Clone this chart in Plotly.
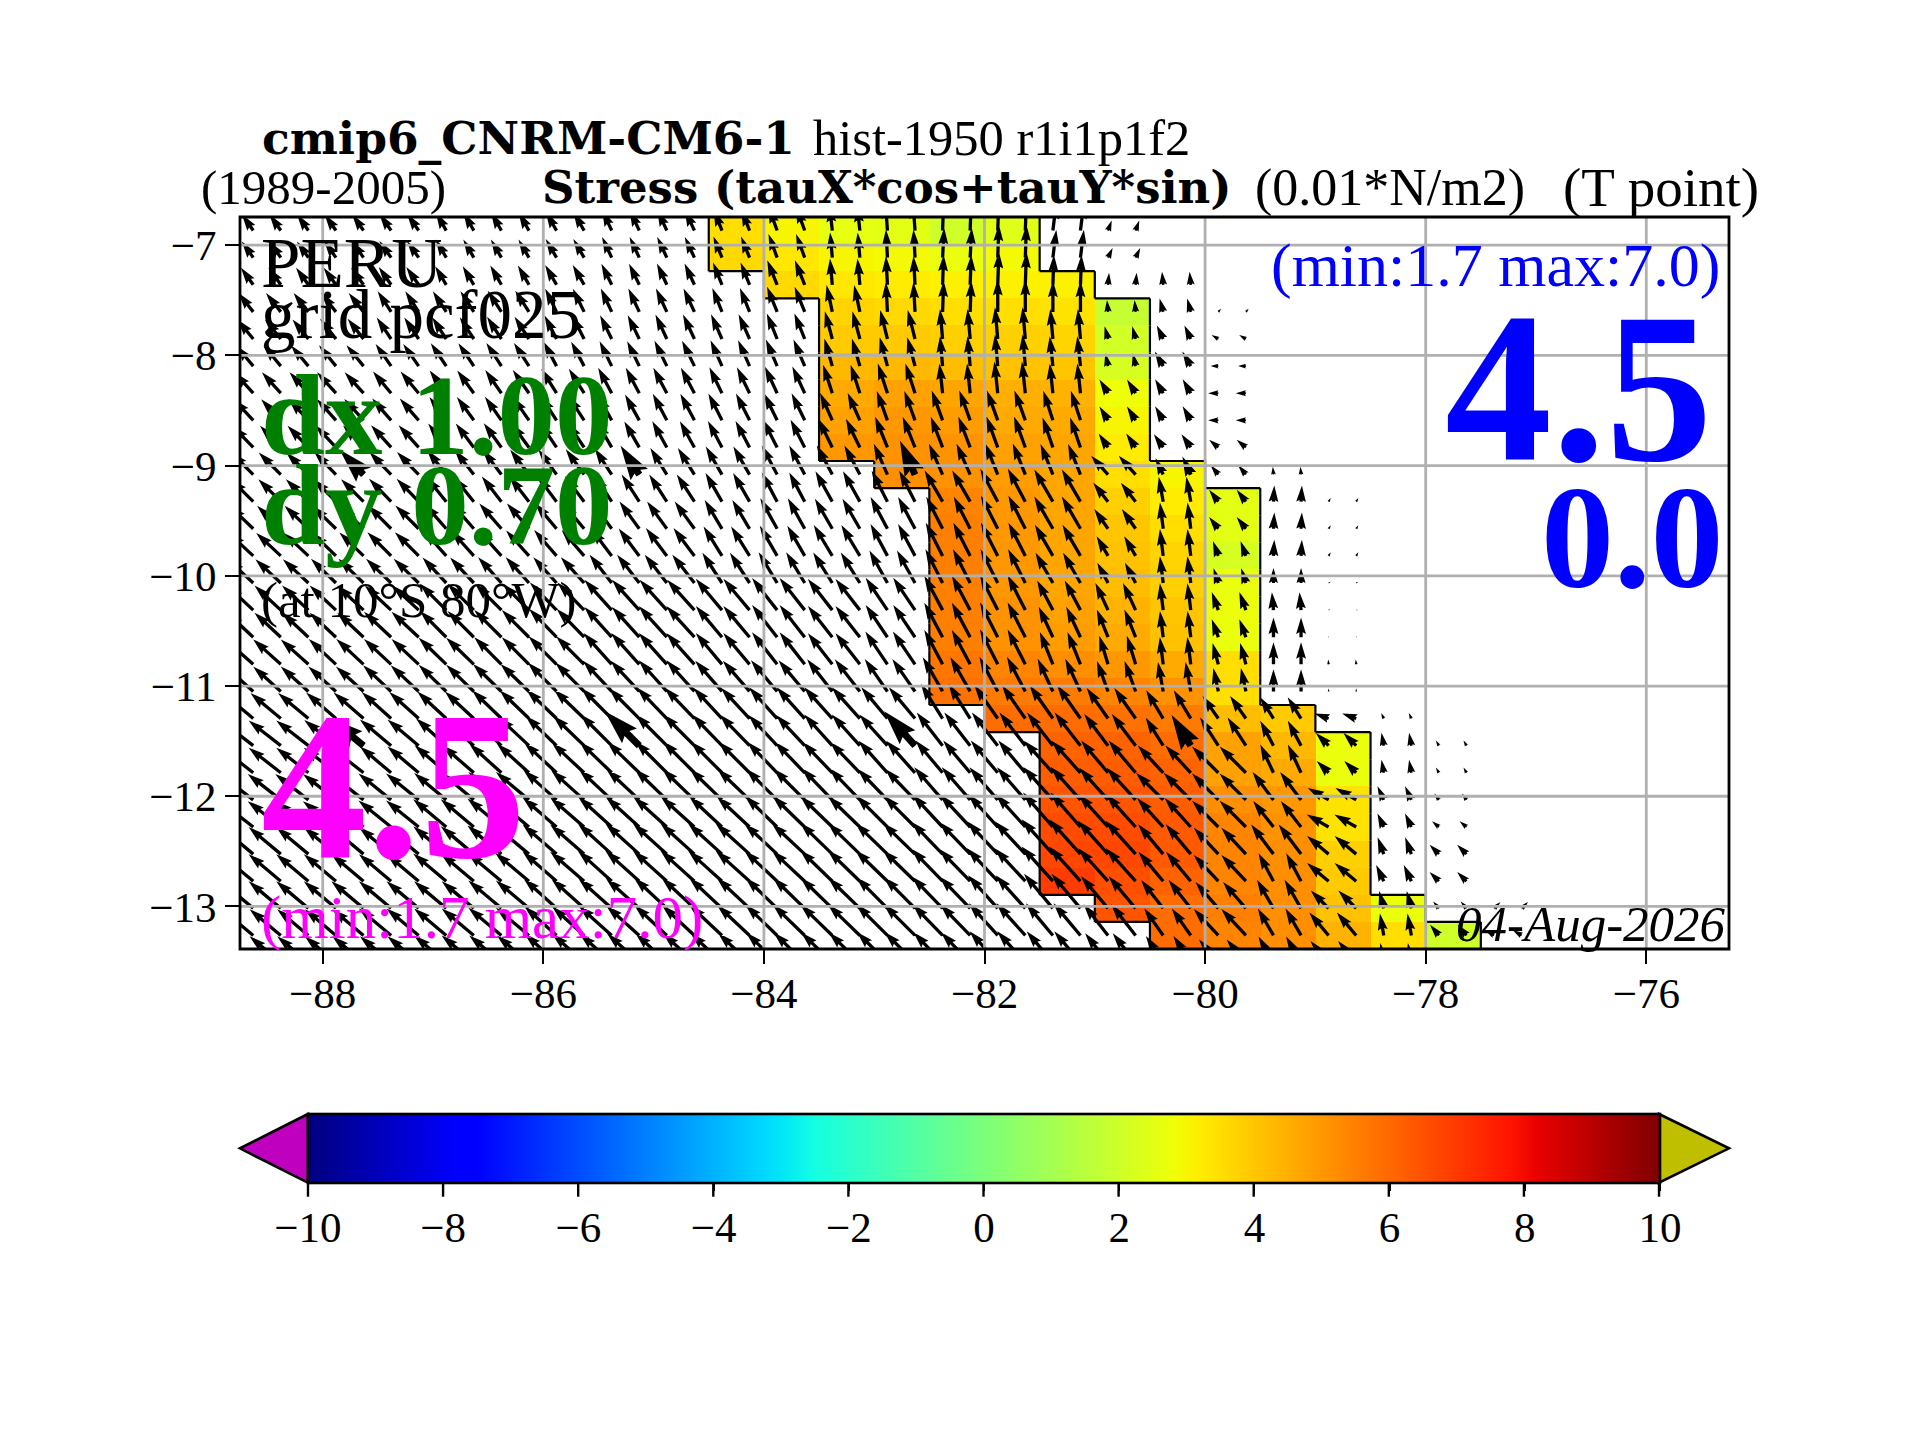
import math
import plotly.graph_objects as go

# ---- data ----
X_TICKS = [-88, -86, -84, -82, -80, -78, -76]
Y_TICKS = [-13, -12, -11, -10, -9, -8, -7]
CBAR_TICKS = [-10, -8, -6, -4, -2, 0, 2, 4, 6, 8, 10]
CELL_LON_LEFT = [-89 + 0.5 * i for i in range(24)]
BAND_TOP = -6.744
BAND_STEP = 0.246

# value per coloured column: (column index, first band, values down the column)
C09 = (9, 0, [3.5, 3.6])
C10 = (10, 0, [3.0, 3.3, 3.6])
C11 = (11, 0, [2.6, 3.0, 3.3, 3.7, 3.9, 4.3, 4.6, 4.8, 5.0])
C12 = (12, 0, [2.5, 2.9, 3.2, 3.6, 3.9, 4.3, 4.8, 5.0, 5.1, 5.2])
C13 = (13, 0, [2.0, 2.7, 3.1, 3.5, 3.8, 4.2, 4.7, 4.9, 5.1, 5.1, 5.4, 5.5, 5.5, 5.5, 5.5, 5.5, 5.7, 5.8])
C14 = (14, 0, [2.4, 2.9, 3.1, 3.5, 3.8, 4.1, 4.5, 4.6, 4.8, 4.9, 5.0, 5.0, 5.0, 5.0, 5.1, 5.1, 5.4, 5.6, 5.9])
C15 = (15, 2, [3.1, 3.4, 3.7, 4.0, 4.4, 4.6, 4.7, 4.7, 4.7, 4.7, 4.7, 4.7, 4.8, 4.9, 5.2, 5.6, 5.9, 6.1, 6.2, 6.4, 6.6, 6.7, 6.9])
C16 = (16, 3, [1.8, 2.1, 2.2, 2.8, 3.0, 3.2, 3.5, 3.8, 4.0, 4.1, 4.2, 4.4, 4.6, 5.0, 5.4, 5.8, 6.1, 6.2, 6.4, 6.6, 6.7, 6.5, 6.4])
C17 = (17, 9, [3.0, 3.2, 3.5, 3.7, 3.8, 4.0, 4.1, 4.6, 5.1, 5.6, 5.9, 6.1, 6.2, 6.3, 6.3, 6.1, 5.9, 5.9])
C18 = (18, 10, [2.5, 2.5, 2.2, 2.7, 2.7, 2.7, 3.5, 3.5, 4.2, 4.8, 4.8, 5.2, 5.4, 5.4, 5.4, 5.5, 5.4])
C19 = (19, 18, [3.9, 4.3, 4.6, 5.0, 5.1, 5.2, 5.2, 5.2, 5.2])
C20 = (20, 19, [2.7, 2.7, 3.4, 3.4, 3.8, 3.9, 4.1, 4.4])
C21 = (21, 25, [2.7, 3.5])
C22 = (22, 26, [2.0])
COLOURED = [C09, C10, C11, C12, C13, C14, C15, C16, C17, C18, C19, C20, C21, C22]

# arrow bearing (degrees from north, west negative) per band and column
BEARING = [
 [-35,-35,-35,-35,-30,-30,-30,-25,-25,-22,-20,-6,-4,2,2,7,20,0,0,0,0,0,0,0],
 [-35,-35,-35,-35,-30,-30,-30,-25,-25,-22,-20,-5,-3,3,2,7,25,0,0,0,0,0,0,0],
 [-36,-36,-36,-35,-31,-30,-30,-26,-25,-22,-22,-5,-3,2,2,2,5,-5,0,0,0,0,0,0],
 [-38,-38,-38,-33,-33,-33,-26,-25,-25,-22,-22,-12,-3,2,0,0,-5,-15,40,0,0,0,0,0],
 [-39,-39,-38,-34,-33,-33,-27,-26,-25,-24,-22,-15,-14,-5,-5,-5,-15,-25,-60,0,0,0,0,0],
 [-40,-40,-39,-35,-34,-33,-28,-26,-26,-24,-23,-16,-15,-5,-5,-6,-12,-30,-90,0,0,0,0,0],
 [-42,-42,-42,-40,-36,-35,-32,-28,-28,-26,-25,-18,-18,-6,-6,-6,-32,-30,-90,0,0,0,0,0],
 [-43,-43,-42,-41,-36,-35,-33,-29,-28,-27,-26,-24,-20,-20,-20,-18,-32,-30,-90,0,0,0,0,0],
 [-44,-44,-43,-42,-37,-36,-34,-30,-29,-28,-27,-26,-22,-21,-20,-19,-34,-35,-50,0,0,0,0,0],
 [-45,-45,-44,-44,-38,-37,-36,-33,-32,-30,-28,-28,-24,-24,-22,-22,-42,-25,-40,-5,0,0,0,0],
 [-45,-45,-45,-44,-39,-38,-37,-33,-33,-30,-28,-29,-27,-30,-28,-30,-38,-10,-38,3,30,0,0,0],
 [-46,-46,-46,-45,-41,-41,-40,-36,-36,-31,-29,-30,-28,-27,-27,-30,-35,-7,-38,3,30,0,0,0],
 [-47,-47,-46,-45,-42,-42,-41,-37,-37,-32,-30,-31,-28,-27,-27,-30,-30,-7,-20,3,30,0,0,0],
 [-47,-47,-46,-46,-43,-42,-42,-38,-38,-33,-31,-32,-29,-27,-27,-30,-28,-7,-18,0,60,0,0,0],
 [-47,-47,-47,-47,-45,-45,-44,-42,-42,-40,-38,-38,-34,-28,-27,-28,-25,-7,-20,-5,60,0,0,0],
 [-47,-47,-47,-47,-45,-45,-44,-42,-42,-40,-38,-38,-34,-28,-27,-25,-22,-7,-20,0,0,0,0,0],
 [-48,-48,-47,-47,-46,-45,-45,-42,-42,-40,-38,-38,-34,-28,-27,-22,-17,-7,-15,0,-5,0,0,0],
 [-48,-48,-48,-47,-46,-46,-45,-43,-42,-41,-40,-38,-35,-30,-28,-25,-20,-10,-12,0,0,0,0,0],
 [-50,-50,-49,-48,-47,-46,-46,-45,-44,-43,-42,-42,-40,-32,-35,-35,-35,-31,-35,-32,-70,-25,0,0],
 [-52,-52,-51,-50,-48,-47,-46,-45,-45,-44,-43,-42,-42,-38,-38,-38,-37,-32,-33,-28,-45,-10,-30,0],
 [-52,-52,-52,-50,-49,-48,-47,-46,-45,-45,-44,-44,-42,-40,-40,-42,-40,-43,-45,-25,-45,-10,-30,0],
 [-52,-52,-52,-51,-50,-50,-48,-47,-46,-46,-45,-44,-44,-41,-41,-42,-42,-45,-45,-37,-60,-25,-35,0],
 [-52,-52,-52,-51,-50,-50,-49,-48,-48,-47,-46,-46,-45,-43,-42,-41,-42,-42,-45,-38,-60,-25,-50,0],
 [-50,-50,-50,-50,-50,-50,-49,-48,-48,-48,-47,-46,-46,-44,-43,-42,-42,-40,-43,-37,-50,-20,-45,0],
 [-50,-50,-50,-50,-50,-50,-49,-48,-48,-48,-47,-46,-46,-44,-43,-42,-42,-40,-43,-28,-50,-25,-45,0],
 [-50,-50,-50,-50,-50,-50,-48,-48,-47,-47,-46,-46,-45,-44,-42,-40,-40,-38,-41,-30,-45,-15,-40,45],
 [-50,-50,-50,-50,-50,-50,-48,-48,-47,-47,-46,-46,-45,-44,-42,-40,-38,-35,-43,-30,-40,-10,-40,-60],
 [-50,-50,-50,-50,-50,-50,-48,-48,-47,-47,-46,-46,-45,-44,-42,-40,-38,-33,-40,-30,-40,-10,-40,-20],
]
# arrow magnitude (0.01 N/m2) per band and column
SPEED = [
 [3.3,3.3,3.3,3.4,3.5,3.5,3.6,3.8,3.8,3.7,4.2,4.2,4.7,5.0,5.5,4.7,1.8,0,0,0,0,0,0,0],
 [3.3,3.3,3.4,3.4,3.5,3.5,3.6,3.8,3.8,3.8,4.2,4.2,4.7,5.0,5.5,4.7,1.8,0,0,0,0,0,0,0],
 [3.5,3.5,3.5,3.6,3.6,3.7,3.8,3.9,3.9,4.0,4.4,4.4,4.8,5.0,5.5,5.0,2.0,2.2,0,0,0,0,0,0],
 [4.0,4.0,4.0,4.1,4.1,4.2,4.3,4.3,4.3,4.3,4.5,4.6,5.0,5.2,5.5,5.2,2.0,2.3,0.7,0,0,0,0,0],
 [4.2,4.2,4.3,4.3,4.3,4.4,4.4,4.4,4.5,4.5,4.6,4.8,5.0,5.0,5.3,5.0,2.2,2.5,1.3,0,0,0,0,0],
 [4.5,4.5,4.5,4.5,4.6,4.6,4.6,4.6,4.7,4.7,4.8,4.8,5.0,5.0,5.3,5.0,2.2,2.8,1.3,0,0,0,0,0],
 [4.7,4.7,4.7,4.7,4.7,4.7,4.8,4.8,4.8,4.8,4.9,5.0,5.2,5.0,5.3,5.0,2.7,2.7,1.7,0,0,0,0,0],
 [4.8,4.8,4.8,4.8,4.8,4.8,4.9,4.9,5.0,5.0,5.0,5.0,5.2,5.3,5.3,5.2,2.7,2.7,1.7,0,0,0,0,0],
 [5.0,5.0,5.0,5.0,5.0,5.0,5.0,5.0,5.0,5.0,5.2,5.3,5.5,5.5,5.5,5.3,2.8,2.7,2.0,0,0,0,0,0],
 [5.2,5.2,5.2,5.2,5.2,5.2,5.2,5.2,5.2,5.4,5.5,5.5,5.6,5.6,5.6,5.5,4.2,3.0,2.0,1.3,0,0,0,0],
 [5.3,5.3,5.3,5.3,5.3,5.3,5.3,5.4,5.4,5.5,5.5,5.8,5.8,6.0,6.2,6.2,4.0,4.2,2.5,2.7,0.7,0,0,0],
 [5.5,5.5,5.5,5.5,5.5,5.6,5.6,5.6,5.6,5.6,5.8,5.8,6.0,6.0,6.2,6.2,4.0,4.4,2.5,2.7,0.7,0,0,0],
 [5.6,5.6,5.6,5.6,5.7,5.7,5.7,5.7,5.8,5.8,5.8,6.0,6.0,6.2,6.2,6.0,3.8,4.5,2.6,2.7,0.7,0,0,0],
 [5.8,5.8,5.8,5.8,5.8,5.8,5.8,6.0,6.0,6.0,6.0,6.0,6.2,6.3,6.3,5.8,3.8,4.5,2.6,2.5,0.4,0,0,0],
 [6.0,6.0,6.0,6.0,6.2,6.2,6.4,6.8,6.8,6.8,6.8,6.6,6.5,6.5,6.5,5.6,5.0,4.5,3.2,3.0,0.3,0,0,0],
 [6.0,6.0,6.0,6.2,6.2,6.4,6.6,6.8,7.0,6.8,6.8,6.6,6.5,6.5,6.5,5.6,5.0,4.4,3.2,3.3,0.2,0,0,0],
 [6.2,6.2,6.2,6.2,6.4,6.4,6.6,7.0,7.0,6.8,6.8,6.6,6.6,6.5,6.5,5.8,5.0,4.6,3.7,3.7,0.8,0,0,0],
 [6.2,6.2,6.2,6.4,6.4,6.6,6.8,7.0,7.0,6.8,6.8,6.8,6.6,6.6,6.5,6.0,5.4,5.0,4.0,3.7,0.5,0,0,0],
 [6.6,6.6,6.6,6.6,6.6,6.8,7.0,7.2,7.2,7.0,7.0,7.0,6.8,6.8,6.8,6.8,6.2,5.5,4.6,4.2,2.5,1.0,0,0],
 [6.8,6.8,6.8,6.8,6.8,7.0,7.2,7.4,7.4,7.2,7.0,7.0,7.0,7.0,7.0,7.0,6.6,5.5,5.6,4.7,3.0,2.2,1.0,0],
 [6.8,6.8,6.8,6.8,7.0,7.2,7.4,7.5,7.5,7.4,7.2,7.2,7.2,7.0,7.0,7.2,7.0,6.2,6.2,5.2,2.8,2.2,1.0,0],
 [7.0,7.0,7.0,7.0,7.0,7.2,7.4,7.5,7.5,7.5,7.4,7.4,7.2,7.2,7.2,7.4,7.2,6.4,6.2,5.8,4.0,2.5,1.3,0],
 [7.0,7.0,7.0,7.0,7.2,7.4,7.5,7.5,7.5,7.5,7.5,7.4,7.4,7.4,7.4,7.6,7.4,6.5,6.2,5.5,4.2,2.5,1.5,0],
 [7.0,7.0,7.0,7.0,7.2,7.4,7.5,7.6,7.6,7.6,7.5,7.5,7.5,7.5,7.5,7.8,7.5,6.5,6.0,6.2,4.7,3.0,2.2,0],
 [7.0,7.0,7.0,7.0,7.2,7.4,7.5,7.6,7.6,7.6,7.5,7.5,7.5,7.5,7.5,7.8,7.4,6.4,6.0,5.3,4.7,3.0,2.2,0],
 [7.0,7.0,7.0,7.0,7.0,7.2,7.4,7.5,7.5,7.5,7.4,7.4,7.4,7.4,7.4,7.5,7.0,6.0,5.8,5.5,4.2,3.0,1.5,1.5],
 [6.8,6.8,6.8,7.0,7.0,7.2,7.2,7.4,7.4,7.4,7.4,7.4,7.4,7.2,7.2,7.0,6.6,5.5,6.0,5.2,5.0,3.7,2.3,1.7],
 [6.8,6.8,6.8,6.8,7.0,7.0,7.2,7.2,7.2,7.2,7.2,7.2,7.2,7.0,7.0,6.8,6.2,5.3,5.0,5.0,4.7,3.3,2.0,1.7],
]
THICK_BANDS = [9, 19]
THICK_COLS = [2, 7, 12, 17]

# ---- figure geometry ----
W, H = 1920, 1440
LEFT, RIGHT, TOP, BOTTOM = 240.0, 1729.5, 217.0, 949.0
LON0, LON1 = -88.75, -75.25
LAT1, LAT0 = BAND_TOP, BAND_TOP - 27 * BAND_STEP
PX_LON = (RIGHT - LEFT) / (LON1 - LON0)
PX_LAT = (BOTTOM - TOP) / (LAT1 - LAT0)
PX_PER_SPEED = 6.0

nb, nc = 27, len(CELL_LON_LEFT)
z = [[None] * nc for _ in range(nb)]
for c, start, vals in COLOURED:
    for i, v in enumerate(vals):
        z[start + i][c] = v
lon_edges = CELL_LON_LEFT + [CELL_LON_LEFT[-1] + 0.5]
lat_edges = [BAND_TOP - BAND_STEP * k for k in range(nb + 1)]

# Outline of the coloured area
bx, by = [], []
def on(r, c):
    return 0 <= r < nb and 0 <= c < nc and z[r][c] is not None
for r in range(nb):
    for c in range(nc):
        if on(r, c):
            if not on(r - 1, c):
                bx += [lon_edges[c], lon_edges[c + 1], None]; by += [lat_edges[r], lat_edges[r], None]
            if not on(r + 1, c):
                bx += [lon_edges[c], lon_edges[c + 1], None]; by += [lat_edges[r + 1], lat_edges[r + 1], None]
            if not on(r, c - 1):
                bx += [lon_edges[c], lon_edges[c], None]; by += [lat_edges[r], lat_edges[r + 1], None]
            if not on(r, c + 1):
                bx += [lon_edges[c + 1], lon_edges[c + 1], None]; by += [lat_edges[r], lat_edges[r + 1], None]

def arrow(lon, lat, speed, bearing, w, xs, ys):
    length = speed * PX_PER_SPEED
    if length <= 0:
        return
    k = min(1.0, length / (5 * w))
    sw = w * k
    hl, ha, hw = 5 * sw, 4.5 * sw, 1.5 * sw
    pts = [(0, -sw / 2), (length - ha, -sw / 2), (length - hl, -hw), (length, 0),
           (length - hl, hw), (length - ha, sw / 2), (0, sw / 2), (0, -sw / 2)]
    b = math.radians(bearing)
    ux, uy = math.sin(b), math.cos(b)
    for a, p in pts:
        dx = a * ux + p * uy
        dy = a * uy - p * ux
        xs.append(lon + dx / PX_LON)
        ys.append(lat + dy / PX_LAT)
    xs.append(None); ys.append(None)

ax, ay, tx, ty = [], [], [], []
for r, (brow, srow) in enumerate(zip(BEARING, SPEED)):
    lat = BAND_TOP - BAND_STEP * (r + 0.5)
    for c in range(nc):
        for off in (0.12, 0.37):
            arrow(CELL_LON_LEFT[c] + off, lat, srow[c], brow[c], 3.3, ax, ay)
for r in THICK_BANDS:
    lat = BAND_TOP - BAND_STEP * (r + 0.5)
    for c in THICK_COLS:
        arrow(CELL_LON_LEFT[c] + 0.37, lat, SPEED[r][c] * 1.1, BEARING[r][c], 7.0, tx, ty)

JET = [[0, "rgb(0,0,127)"], [.11, "rgb(0,0,255)"], [.125, "rgb(0,0,255)"], [.34, "rgb(0,219,255)"],
       [.35, "rgb(0,230,247)"], [.375, "rgb(21,255,226)"], [.64, "rgb(239,255,8)"], [.65, "rgb(247,245,0)"],
       [.66, "rgb(255,236,0)"], [.89, "rgb(255,19,0)"], [.91, "rgb(232,0,0)"], [1, "rgb(127,0,0)"]]

FONT = "Liberation Serif"
BOLD = "DejaVu Serif"
plot_w, plot_h = RIGHT - LEFT, BOTTOM - TOP
def fx(px): return (px - LEFT) / plot_w
def fy(py): return (BOTTOM - py) / plot_h

CB_L, CB_R, CB_T, CB_B = 308.0, 1659.5, 1114.0, 1182.7

fig = go.Figure()
fig.add_trace(go.Heatmap(
    x=lon_edges, y=lat_edges, z=z, zmin=-10, zmax=10, colorscale=JET, hoverinfo="skip",
    colorbar=dict(orientation="h", lenmode="pixels", len=CB_R - CB_L, thicknessmode="pixels",
                  thickness=CB_B - CB_T, x=fx(CB_L), xanchor="left", y=fy(CB_T), yanchor="top",
                  xpad=0, ypad=0, tickmode="array", tickvals=CBAR_TICKS, ticks="outside", ticklen=7,
                  tickwidth=2.4, tickcolor="black", outlinewidth=2.6, outlinecolor="black",
                  tickfont=dict(family=FONT, size=43, color="black"))))
fig.add_trace(go.Scatter(x=bx, y=by, mode="lines", line=dict(color="black", width=2.2), hoverinfo="skip", showlegend=False))
fig.add_trace(go.Scatter(x=ax, y=ay, mode="lines", line=dict(color="black", width=0), fill="toself",
                         fillcolor="black", hoverinfo="skip", showlegend=False))
fig.add_trace(go.Scatter(x=tx, y=ty, mode="lines", line=dict(color="black", width=0), fill="toself",
                         fillcolor="black", hoverinfo="skip", showlegend=False))

shapes = []
for v in X_TICKS:
    shapes.append(dict(type="line", xref="x", yref="paper", x0=v, x1=v, y0=0, y1=1, layer="above",
                       line=dict(color="#b0b0b0", width=2.8)))
for v in Y_TICKS:
    shapes.append(dict(type="line", xref="paper", yref="y", x0=0, x1=1, y0=v, y1=v, layer="above",
                       line=dict(color="#b0b0b0", width=2.8)))
shapes.append(dict(type="rect", xref="paper", yref="paper", x0=0, x1=1, y0=0, y1=1, layer="above",
                   line=dict(color="black", width=2.8)))
def tri(x_base, x_tip, fill):
    mid = (CB_T + CB_B) / 2
    path = f"M {fx(x_base)} {fy(CB_T)} L {fx(x_tip)} {fy(mid)} L {fx(x_base)} {fy(CB_B)} Z"
    return dict(type="path", xref="paper", yref="paper", path=path, fillcolor=fill, layer="above",
                line=dict(color="black", width=2.6))
shapes.append(tri(CB_L, 240.0, "#bf00bf"))
shapes.append(tri(CB_R, 1729.5, "#bfbf00"))
for v in CBAR_TICKS:
    px = CB_L + (v + 10) / 20 * (CB_R - CB_L)
    shapes.append(dict(type="line", xref="paper", yref="paper", x0=fx(px), x1=fx(px), y0=fy(CB_B), y1=fy(CB_B + 14),
                       layer="above", line=dict(color="black", width=2.4)))

notes = []
def note(text, x, y, size, color="black", anchor="left", family=FONT):
    notes.append(dict(text=text, x=fx(x), y=fy(y), xref="paper", yref="paper", xanchor=anchor, yanchor="middle",
                      showarrow=False, borderpad=0, font=dict(family=family, size=size, color=color)))

note("<b>cmip6_CNRM-CM6-1</b>", 261, 138, 45.5, family=BOLD)
note("hist-1950 r1i1p1f2", 812, 138, 50.5)
note("(1989-2005)", 200, 188, 49)
note("<b>Stress (tauX*cos+tauY*sin)</b>", 541, 188, 45, family=BOLD)
note("(0.01*N/m2)", 1254, 188, 52)
note("(T point)", 1562, 188, 55)
note("PERU", 260, 263, 71)
note("grid pcf025", 260, 315, 69)
note("<b>dx 1.00</b>", 260, 415, 115, "green")
note("<b>dy 0.70</b>", 260, 505, 115, "green")
note("(at 10°S 80°W)", 260, 600, 51)
note("<b>4.5</b>", 260, 785, 212, "#ff00ff")
note("(min:1.7 max:7.0)", 260, 918, 61, "#ff00ff")
note("(min:1.7 max:7.0)", 1721, 265, 62, "#0000ff", "right")
note("<b>4.5</b>", 1714, 387, 214, "#0000ff", "right")
note("<b>0.0</b>", 1725, 538, 146, "#0000ff", "right")
note("<i>04-Aug-2026</i>", 1727, 924, 51, "black", "right")

axis_common = dict(showgrid=False, zeroline=False, ticks="outside", ticklen=14, tickwidth=2.4, tickcolor="black",
                   showline=False, tickfont=dict(family=FONT, size=43, color="black"), layer="above traces")
fig.update_layout(
    width=W, height=H, autosize=False, showlegend=False,
    paper_bgcolor="white", plot_bgcolor="white",
    margin=dict(l=LEFT, r=W - RIGHT, t=TOP, b=H - BOTTOM, pad=0),
    xaxis=dict(range=[LON0, LON1], tickmode="array", tickvals=X_TICKS, ticklabelstandoff=-8, **axis_common),
    yaxis=dict(range=[LAT0, LAT1], tickmode="array", tickvals=Y_TICKS, **axis_common),
    shapes=shapes, annotations=notes,
)
fig.write_html("out.html", config={"displayModeBar": False}, post_script="document.body.style.margin='0';")
